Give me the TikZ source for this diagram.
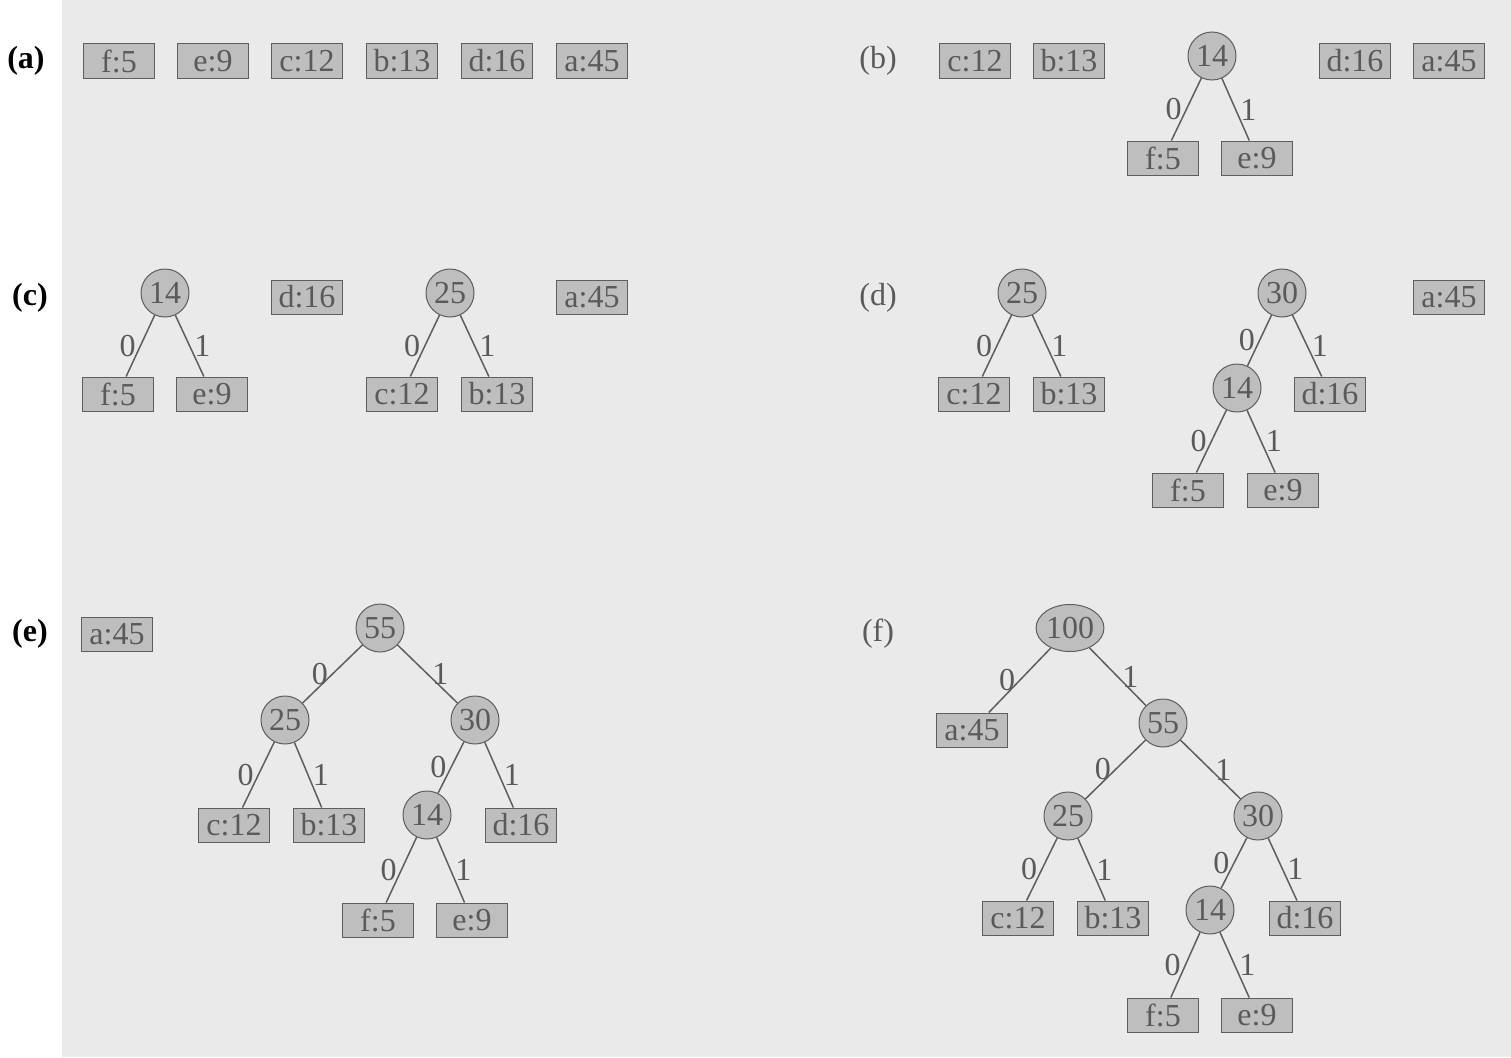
\documentclass[tikz,border=0pt]{standalone}
\usepackage{fontspec}
\setmainfont{Liberation Serif}
\usetikzlibrary{shapes.geometric}
\definecolor{bgc}{HTML}{EAEAEA}
\definecolor{boxc}{HTML}{BEBEBE}
\definecolor{linec}{HTML}{5E5E5E}
\definecolor{txtc}{HTML}{5A5A5A}
\tikzset{
  leaf/.style={draw=linec, fill=boxc, text=txtc, minimum width=71pt, minimum height=34pt, inner sep=0pt, line width=1pt},
  hnode/.style={draw=linec, fill=boxc, text=txtc, circle, minimum size=48pt, inner sep=0pt, line width=1pt},
  hroot/.style={draw=linec, fill=boxc, text=txtc, ellipse, minimum width=64pt, minimum height=47pt, inner sep=0pt, line width=1pt},
  edge/.style={draw=linec, line width=1.5pt},
  zl/.style={midway, left, text=txtc, inner sep=4pt},
  ol/.style={midway, right, text=txtc, inner sep=4pt},
  plbl/.style={text=black, font=\fontsize{32}{38}\selectfont\bfseries},
  glbl/.style={text=txtc},
}
\begin{document}
\begin{tikzpicture}[x=1pt,y=-1pt, every node/.append style={font=\fontsize{32}{38}\selectfont}]
\useasboundingbox (0,0) rectangle (1511,1057);
\fill[white] (0,0) rectangle (1511,1057);
\fill[bgc] (62,0) rectangle (1511,1057);

% (a)
\node[plbl] (la) at (26,61) {(a)};
\node[leaf] (a1) at (119,61) {f:5};
\node[leaf] (a2) at (213,61) {e:9};
\node[leaf] (a3) at (307,61) {c:12};
\node[leaf] (a4) at (402,61) {b:13};
\node[leaf] (a5) at (497,61) {d:16};
\node[leaf] (a6) at (592,61) {a:45};

% (b)
\node[glbl] (lb) at (878,61) {(b)};
\node[leaf] (b1) at (975,61) {c:12};
\node[leaf] (b2) at (1069,61) {b:13};
\node[hnode] (b3) at (1212,56) {14};
\node[leaf] (b4) at (1355,61) {d:16};
\node[leaf] (b5) at (1449,61) {a:45};
\node[leaf] (b6) at (1163,158) {f:5};
\node[leaf] (b7) at (1257,158) {e:9};
\draw[edge] (b3) -- (b6) node[zl] {0};
\draw[edge] (b3) -- (b7) node[ol] {1};

% (c)
\node[plbl] (lc) at (30,298) {(c)};
\node[hnode] (c1) at (165,293) {14};
\node[leaf] (c2) at (307,297) {d:16};
\node[hnode] (c3) at (450,293) {25};
\node[leaf] (c4) at (592,297) {a:45};
\node[leaf] (c5) at (118,394) {f:5};
\node[leaf] (c6) at (212,394) {e:9};
\node[leaf] (c7) at (402,394) {c:12};
\node[leaf] (c8) at (497,394) {b:13};
\draw[edge] (c1) -- (c5) node[zl] {0};
\draw[edge] (c1) -- (c6) node[ol] {1};
\draw[edge] (c3) -- (c7) node[zl] {0};
\draw[edge] (c3) -- (c8) node[ol] {1};

% (d)
\node[glbl] (ld) at (878,298) {(d)};
\node[hnode] (d1) at (1022,293) {25};
\node[hnode] (d2) at (1282,293) {30};
\node[leaf] (d3) at (1449,297) {a:45};
\node[leaf] (d4) at (974,394) {c:12};
\node[leaf] (d5) at (1069,394) {b:13};
\node[hnode] (d6) at (1237,388) {14};
\node[leaf] (d7) at (1330,394) {d:16};
\node[leaf] (d8) at (1188,490) {f:5};
\node[leaf] (d9) at (1283,490) {e:9};
\draw[edge] (d1) -- (d4) node[zl] {0};
\draw[edge] (d1) -- (d5) node[ol] {1};
\draw[edge] (d2) -- (d6) node[zl] {0};
\draw[edge] (d2) -- (d7) node[ol] {1};
\draw[edge] (d6) -- (d8) node[zl] {0};
\draw[edge] (d6) -- (d9) node[ol] {1};

% (e)
\node[plbl] (le) at (30,634) {(e)};
\node[leaf] (e1) at (117,634) {a:45};
\node[hnode] (e2) at (380,628) {55};
\node[hnode] (e3) at (285,720) {25};
\node[hnode] (e4) at (475,720) {30};
\node[leaf] (e5) at (234,825) {c:12};
\node[leaf] (e6) at (329,825) {b:13};
\node[hnode] (e7) at (427,815) {14};
\node[leaf] (e8) at (521,825) {d:16};
\node[leaf] (e9) at (378,920) {f:5};
\node[leaf] (e10) at (472,920) {e:9};
\draw[edge] (e2) -- (e3) node[zl] {0};
\draw[edge] (e2) -- (e4) node[ol] {1};
\draw[edge] (e3) -- (e5) node[zl] {0};
\draw[edge] (e3) -- (e6) node[ol] {1};
\draw[edge] (e4) -- (e7) node[zl] {0};
\draw[edge] (e4) -- (e8) node[ol] {1};
\draw[edge] (e7) -- (e9) node[zl] {0};
\draw[edge] (e7) -- (e10) node[ol] {1};

% (f)
\node[glbl] (lf) at (878,634) {(f)};
\node[hroot] (f1) at (1070,628) {100};
\node[leaf] (f2) at (972,730) {a:45};
\node[hnode] (f3) at (1163,723) {55};
\node[hnode] (f4) at (1068,816) {25};
\node[hnode] (f5) at (1258,816) {30};
\node[leaf] (f6) at (1018,918) {c:12};
\node[leaf] (f7) at (1113,918) {b:13};
\node[hnode] (f8) at (1210,910) {14};
\node[leaf] (f9) at (1305,918) {d:16};
\node[leaf] (f10) at (1163,1015) {f:5};
\node[leaf] (f11) at (1257,1015) {e:9};
\draw[edge] (f1) -- (f2) node[zl] {0};
\draw[edge] (f1) -- (f3) node[ol] {1};
\draw[edge] (f3) -- (f4) node[zl] {0};
\draw[edge] (f3) -- (f5) node[ol] {1};
\draw[edge] (f4) -- (f6) node[zl] {0};
\draw[edge] (f4) -- (f7) node[ol] {1};
\draw[edge] (f5) -- (f8) node[zl] {0};
\draw[edge] (f5) -- (f9) node[ol] {1};
\draw[edge] (f8) -- (f10) node[zl] {0};
\draw[edge] (f8) -- (f11) node[ol] {1};
\end{tikzpicture}
\end{document}
